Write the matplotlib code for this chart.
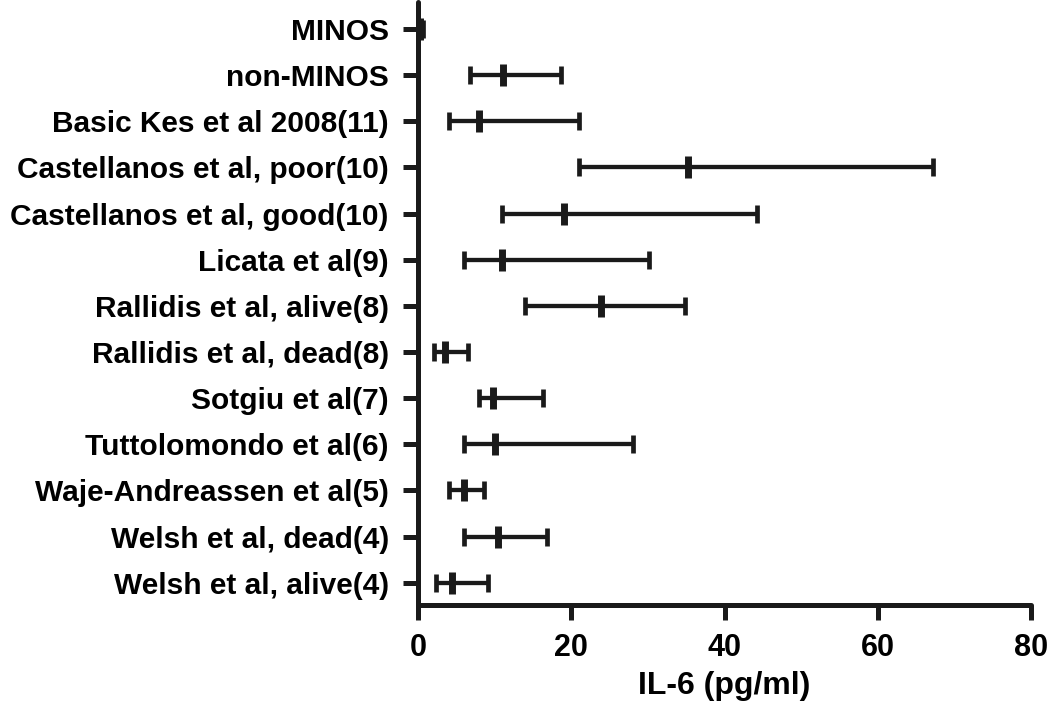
import matplotlib
matplotlib.use('Agg')
import matplotlib.pyplot as plt

# IL-6 values (pg/ml): lower bound, mean, upper bound
studies = ['MINOS', 'non-MINOS', 'Basic Kes et al 2008(11)',
           'Castellanos et al, poor(10)', 'Castellanos et al, good(10)',
           'Licata et al(9)', 'Rallidis et al, alive(8)', 'Rallidis et al, dead(8)',
           'Sotgiu et al(7)', 'Tuttolomondo et al(6)', 'Waje-Andreassen et al(5)',
           'Welsh et al, dead(4)', 'Welsh et al, alive(4)']
low = [0.0, 6.8, 4.0, 21.0, 10.9, 6.0, 14.0, 2.1, 8.0, 6.0, 4.0, 6.0, 2.3]
mean = [0.2, 11.1, 8.0, 35.2, 19.1, 11.0, 23.9, 3.5, 9.8, 10.1, 6.0, 10.4, 4.4]
high = [0.7, 18.7, 21.0, 67.2, 44.3, 30.1, 34.9, 6.5, 16.3, 28.1, 8.6, 16.8, 9.2]
xticks = [0, 20, 40, 60, 80]

plt.rcParams['font.family'] = ['Liberation Sans', 'DejaVu Sans']
plt.rcParams['font.weight'] = 'bold'

col = '#1a1a1a'
fig = plt.figure(figsize=(10.5, 7.08), dpi=100)
ax = fig.add_axes([418 / 1050, 103 / 708, 613 / 1050, 603 / 708])

n = len(studies)
ypos = [n - 1 - i for i in range(n)]
xerr = [[m - l for m, l in zip(mean, low)], [h - m for h, m in zip(high, mean)]]

# capsize is half the cap length
ax.errorbar(mean, ypos, xerr=xerr, fmt='none', ecolor=col, elinewidth=3.1,
            capsize=6.5, capthick=3.4, clip_on=False)
ax.plot(mean, ypos, ls='none', marker='|', ms=16.5, mew=5, color=col,
        clip_on=False)

ax.set_xlim(0, 80)
ax.set_ylim(-0.483, n - 1 + 0.585)
ax.set_xticks(xticks)
ax.set_xticklabels([str(t) for t in xticks], fontsize=22, fontweight='bold')
ax.set_yticks(ypos)
ax.set_yticklabels(studies, fontsize=21.5, fontweight='bold')
ax.set_xlabel('IL-6 (pg/ml)', fontsize=23, fontweight='bold', labelpad=6)

for side in ['top', 'right']:
    ax.spines[side].set_visible(False)
for side in ['left', 'bottom']:
    ax.spines[side].set_linewidth(3.6)
    ax.spines[side].set_color(col)
    ax.spines[side].set_capstyle('round')

ax.tick_params(axis='x', length=11, width=3.6, color=col, pad=9)
ax.tick_params(axis='y', length=11, width=3.6, color=col, pad=10)

fig.savefig('out.png', dpi=100)
